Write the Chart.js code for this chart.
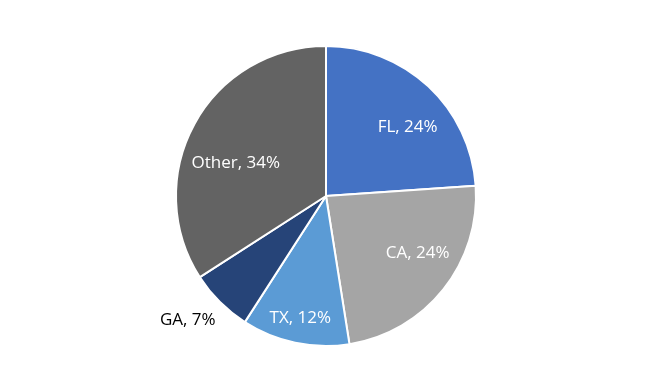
<!DOCTYPE html>
<html>
<head>
<meta charset="utf-8">
<script src="https://cdn.jsdelivr.net/npm/chart.js@4"></script>
<style>
  html, body { margin: 0; padding: 0; background: #fff; }
  #wrap { width: 645px; height: 387px; position: relative; }
</style>
</head>
<body>
<div id="wrap"><canvas id="stateChart"></canvas></div>
<script>
const states = ['FL', 'CA', 'TX', 'GA', 'Other'];
const shares = [23.9, 23.6, 11.6, 6.8, 34.1];
const sliceColors = ['#4472C4', '#A5A5A5', '#5B9BD5', '#264478', '#636363'];

// Excel-like "best fit" label placement: radius factor and angle nudge (deg) per slice
const labelPlacement = [
  { r: 0.71, da: 7, color: '#fff' },
  { r: 0.72, da: -6.6, color: '#fff' },
  { r: 0.83, da: 0, color: '#fff' },
  { r: 1.24, da: 3, color: '#000' },
  { r: 0.64, da: -8.7, color: '#fff' }
];

const sliceLabels = {
  id: 'sliceLabels',
  afterDatasetsDraw(chart) {
    const { ctx } = chart;
    const meta = chart.getDatasetMeta(0);
    const data = chart.data.datasets[0].data;
    const total = data.reduce((a, b) => a + b, 0);
    ctx.save();
    ctx.font = '17px "Open Sans"';
    ctx.textAlign = 'center';
    ctx.textBaseline = 'middle';
    meta.data.forEach((arc, i) => {
      const p = arc.getProps(['x', 'y', 'startAngle', 'endAngle', 'outerRadius'], true);
      const place = labelPlacement[i];
      const mid = (p.startAngle + p.endAngle) / 2 + place.da * Math.PI / 180;
      const rr = p.outerRadius * place.r;
      const x = p.x + Math.cos(mid) * rr;
      const y = p.y + Math.sin(mid) * rr;
      ctx.fillStyle = place.color;
      ctx.fillText(`${chart.data.labels[i]}, ${Math.round(data[i] / total * 100)}%`, x, y);
    });
    ctx.restore();
  }
};

new Chart(document.getElementById('stateChart').getContext('2d'), {
  type: 'pie',
  data: {
    labels: states,
    datasets: [{
      data: shares,
      backgroundColor: sliceColors,
      borderColor: '#ffffff',
      borderWidth: 2
    }]
  },
  options: {
    responsive: true,
    maintainAspectRatio: false,
    animation: false,
    layout: { padding: { top: 45, bottom: 40, left: 52, right: 45 } },
    plugins: {
      legend: { display: false },
      tooltip: { enabled: false }
    }
  },
  plugins: [sliceLabels]
});
</script>
</body>
</html>
